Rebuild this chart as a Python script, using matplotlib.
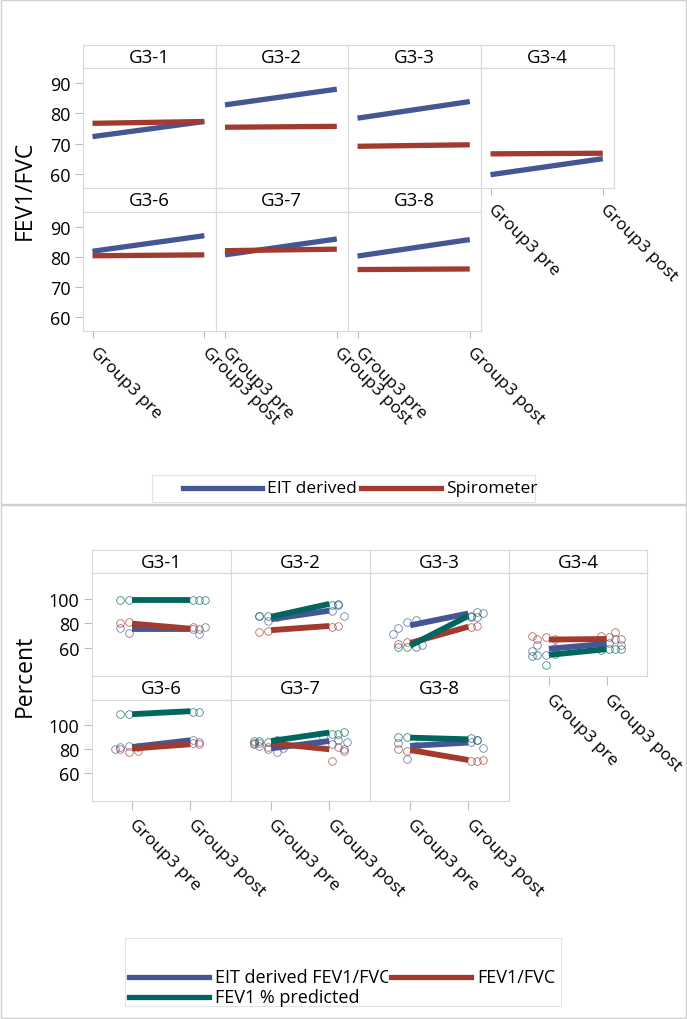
import matplotlib.pyplot as plt
from matplotlib.lines import Line2D
from matplotlib.patches import Rectangle
from matplotlib.transforms import Bbox, TransformedBbox

plt.rcParams['font.family'] = ['Open Sans', 'DejaVu Sans']

W, H = 687, 1020

groups = ["G3-1", "G3-2", "G3-3", "G3-4", "G3-6", "G3-7", "G3-8"]
times = ["Group3 pre", "Group3 post"]

# top chart: FEV1/FVC, pre/post per group
eit_ratio = [[72.3, 77.3], [82.8, 88.0], [78.4, 83.9], [59.7, 65.0],
             [81.9, 87.1], [80.7, 86.0], [80.3, 85.8]]
spiro_ratio = [[76.7, 77.3], [75.4, 75.7], [69.1, 69.6], [66.6, 66.8],
               [80.4, 80.7], [82.1, 82.6], [75.8, 76.0]]

# bottom chart: mean lines
eit_pct = [[75.0, 75.0], [83.3, 90.3], [78.3, 88.0], [59.2, 63.3],
           [81.9, 87.5], [80.8, 86.9], [82.8, 85.6]]
fvc_pct = [[79.7, 75.6], [74.4, 77.8], [63.9, 77.2], [66.7, 67.2],
           [80.6, 84.2], [85.0, 80.0], [79.4, 71.1]]
pred_pct = [[98.9, 98.9], [85.3, 95.8], [61.7, 86.0], [54.2, 58.9],
            [109.2, 111.7], [86.9, 93.9], [89.7, 88.3]]

# bottom chart: individual subjects [pre, post]
eit_pts = [[[76, 72, 77], [71, 75, 77]],
           [[86, 82, 85], [95, 90, 86]],
           [[76, 81, 83, 71, 62], [89, 85, 88]],
           [[62, 54, 60, 57], [67, 64, 62]],
           [[82, 83, 82, 80], [86, 88]],
           [[83, 80, 78, 85, 81], [88, 84, 80, 90, 86]],
           [[85, 72, 83], [88, 86, 81]]]
fvc_pts = [[[80, 81], [75, 77]],
           [[73, 74], [78, 77]],
           [[63, 65], [78, 77]],
           [[67.5, 69, 67, 70], [72.5, 69, 67, 70]],
           [[80, 78, 79], [84, 85]],
           [[85, 82, 87, 84], [82, 70, 79]],
           [[80, 79, 80], [70, 70, 71]]]
pred_pts = [[[99, 99], [99, 99, 99]],
            [[86, 86], [96, 95]],
            [[61, 61, 61], [85, 86]],
            [[54, 46, 55, 53], [59, 59, 59, 58]],
            [[109, 109], [111, 111]],
            [[87, 86, 88, 87], [92.5, 93, 94]],
            [[90, 90], [88, 89]]]

BLUE = '#445694'
RED = '#A23A2E'
GREEN = '#01665E'
GRID = '#D9D9D9'
TICK = '#BDBDBD'
JIT = [[-0.2, -0.05, 0.1, -0.3, 0.2], [0.15, 0.05, 0.25, -0.1, 0.3]]

fig = plt.figure(figsize=(W / 100, H / 100), dpi=100)


def rect(x0, y0, x1, y1):
    return [x0 / W, 1 - y1 / H, (x1 - x0) / W, (y1 - y0) / H]


def fx(x):
    return x / W


def fy(y):
    return 1 - y / H


def panel_grid(cols, rows, xlim, ylim, yticks, tick_len):
    axes = []
    for i, g in enumerate(groups):
        r, c = divmod(i, 4)
        top, mid, bot = rows[r]
        hx = fig.add_axes(rect(cols[c], top, cols[c + 1], mid))
        hx.set_xticks([])
        hx.set_yticks([])
        for s in hx.spines.values():
            s.set_color(GRID)
        hx.text(0.5, 0.48, g, ha='center', va='center', fontsize=13.5,
                transform=hx.transAxes)
        ax = fig.add_axes(rect(cols[c], mid, cols[c + 1], bot))
        for s in ax.spines.values():
            s.set_color(GRID)
        ax.set_xlim(*xlim)
        ax.set_ylim(*ylim)
        ax.set_yticks(yticks)
        if c == 0:
            ax.tick_params(axis='y', length=5.5, color=TICK, labelsize=13, pad=3.5)
        else:
            ax.tick_params(axis='y', left=False, labelleft=False)
        ax.set_xticks([0, 1])
        last = (r == 1) or (c == 3)
        if last:
            ax.set_xticklabels(times, rotation=-45, ha='left', va='center',
                               rotation_mode='anchor', fontsize=12.5)
            ax.tick_params(axis='x', length=tick_len, color=TICK, pad=8)
        else:
            ax.tick_params(axis='x', bottom=False, labelbottom=False)
        axes.append(ax)
    return axes


# ---------- top chart ----------
top_axes = panel_grid([83, 215.5, 348, 481, 614],
                      [(46, 69, 189), (189, 213, 332)],
                      (-0.085, 1.1), (55.3, 95), [60, 70, 80, 90], 5)
for i, ax in enumerate(top_axes):
    ax.plot([0, 1], eit_ratio[i], color=BLUE, lw=3.8, solid_capstyle='butt')
    ax.plot([0, 1], spiro_ratio[i], color=RED, lw=3.8, solid_capstyle='butt')

fig.text(fx(25), fy(190), "FEV1/FVC", rotation=90, ha='center', va='center',
         fontsize=16.5)

# top legend
fig.add_artist(Rectangle((fx(152), fy(503)), fx(535) - fx(152), fy(476) - fy(503),
                         transform=fig.transFigure, fill=False, ec='#E3E3E3', lw=0.8))
fig.add_artist(Line2D([fx(183), fx(262)], [fy(489), fy(489)], color=BLUE, lw=3.8,
                      transform=fig.transFigure))
fig.text(fx(267), fy(489), "EIT derived", ha='left', va='center', fontsize=12.5)
fig.add_artist(Line2D([fx(361), fx(441)], [fy(489), fy(489)], color=RED, lw=3.8,
                      transform=fig.transFigure))
fig.text(fx(446), fy(489), "Spirometer", ha='left', va='center', fontsize=12.5)

# ---------- bottom chart ----------
bot_axes = panel_grid([92, 231, 370, 509, 647],
                      [(551, 574, 677), (677, 701, 802)],
                      (-0.69, 1.7), (37, 121), [60, 80, 100], 6.5)
for i, ax in enumerate(bot_axes):
    for pts, col in ((eit_pts, BLUE), (fvc_pts, RED), (pred_pts, GREEN)):
        for t in range(2):
            vals = pts[i][t]
            xs = [t + JIT[t][k % 5] for k in range(len(vals))]
            ax.plot(xs, vals, 'o', ms=5.5, mfc='none', mec=col, mew=0.6,
                    alpha=0.75, clip_on=False)
    ax.plot([0, 1], eit_pct[i], color=BLUE, lw=4.2, solid_capstyle='butt')
    ax.plot([0, 1], fvc_pct[i], color=RED, lw=4.2, solid_capstyle='butt')
    ax.plot([0, 1], pred_pct[i], color=GREEN, lw=4.2, solid_capstyle='butt')

fig.text(fx(25), fy(676), "Percent", rotation=90, ha='center', va='center',
         fontsize=16.5)

# bottom legend
fig.add_artist(Rectangle((fx(125), fy(1007)), fx(561) - fx(125), fy(939) - fy(1007),
                         transform=fig.transFigure, fill=False, ec='#E3E3E3', lw=0.8))
fig.add_artist(Line2D([fx(129), fx(209)], [fy(978), fy(978)], color=BLUE, lw=3.8,
                      transform=fig.transFigure))
t1 = fig.text(fx(215), fy(978), "EIT derived FEV1/FVC", ha='left', va='center',
              fontsize=13)
t1.set_clip_box(TransformedBbox(Bbox.from_extents(0, 0, fx(388), 1), fig.transFigure))
t1.set_clip_on(True)
fig.add_artist(Line2D([fx(391), fx(471)], [fy(978), fy(978)], color=RED, lw=3.8,
                      transform=fig.transFigure))
fig.text(fx(477), fy(978), "FEV1/FVC", ha='left', va='center', fontsize=13)
fig.add_artist(Line2D([fx(129), fx(209)], [fy(998), fy(998)], color=GREEN, lw=3.8,
                      transform=fig.transFigure))
fig.text(fx(215), fy(998), "FEV1 % predicted", ha='left', va='center', fontsize=13)

# frames of the two graphs
fig.add_artist(Rectangle((fx(0.5), fy(505)), fx(686) - fx(0.5), fy(0.5) - fy(505),
                         transform=fig.transFigure, fill=False, ec='#D0D0D0', lw=1))
fig.add_artist(Rectangle((fx(0.5), fy(1019)), fx(686) - fx(0.5), fy(506) - fy(1019),
                         transform=fig.transFigure, fill=False, ec='#D0D0D0', lw=1))

fig.savefig("out.png", dpi=100)
